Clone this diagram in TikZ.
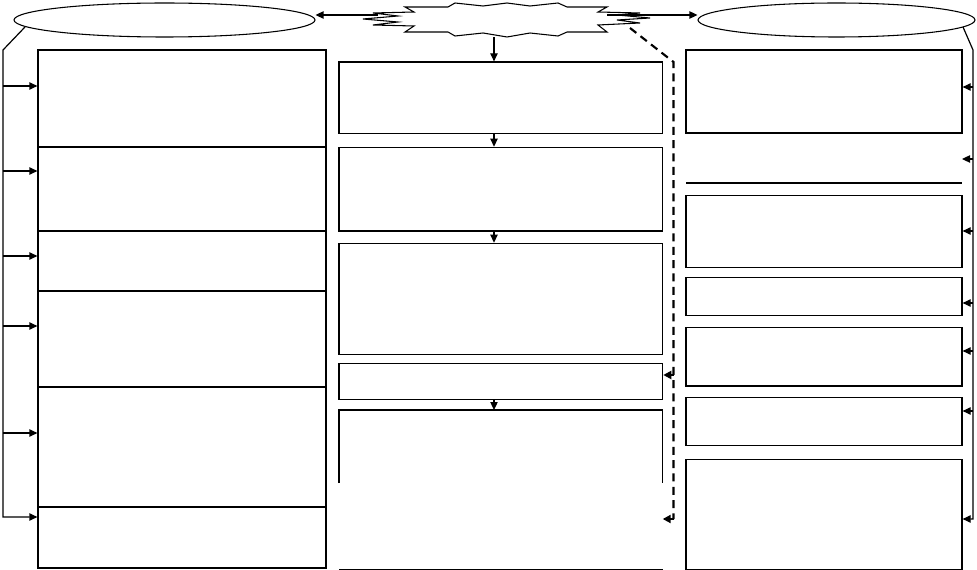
\documentclass[tikz,border=0pt]{standalone}
\usetikzlibrary{shapes.geometric,arrows.meta,fit}
\tikzset{
  ln/.style={line width=0.9pt},
  box/.style={draw, line width=0.9pt, inner sep=0pt},
  hid/.style={inner sep=0pt, outer sep=0pt},
  arr/.style={line width=0.9pt, -{Triangle[length=6pt,width=5.5pt]}},
  dsh/.style={line width=1.6pt, dash pattern=on 6pt off 4pt},
  oval/.style={ellipse, draw, line width=0.8pt, inner sep=0pt},
}
\begin{document}
\begin{tikzpicture}[x=0.75pt,y=-0.75pt]
\useasboundingbox (0,0) rectangle (977,570);

% ellipses
\node[oval, minimum width=225.75pt, minimum height=25.5pt] (E1) at (164.5,20) {};
\node[oval, minimum width=207.75pt, minimum height=25.5pt] (E2) at (836.5,20) {};

% burst
\draw[line width=0.8pt] (405,7) -- (448,7) -- (455,3) -- (483,6) -- (507,3) -- (530,6) -- (558,3) -- (567,7)
  -- (607,7) -- (598,12) -- (640,13) -- (617,15) -- (650,18) -- (617,20) -- (640,23) -- (598,25)
  -- (607,32) -- (567,32) -- (558,36) -- (530,33) -- (507,37) -- (483,33) -- (455,36) -- (448,32)
  -- (405,32) -- (414,26) -- (373,25) -- (398,22) -- (363,19) -- (398,16) -- (373,13) -- (414,12) -- cycle;
\node[hid, fit={(363,3) (650,37)}] (burst) {};

% left column
\node[box, fit={(38,50) (326,147)}] (L1) {};
\node[box, fit={(38,147) (326,231)}] (L2) {};
\node[box, fit={(38,231) (326,291)}] (L3) {};
\node[box, fit={(38,291) (326,387)}] (L4) {};
\node[box, fit={(38,387) (326,507)}] (L5) {};
\node[box, fit={(38,507) (326,568)}] (L6) {};

% middle column
\node[box, fit={(339,62) (662.7,133.3)}] (M1) {};
\node[box, fit={(339,147.3) (662.7,231)}] (M2) {};
\node[box, fit={(339,243.3) (662.7,354.3)}] (M3) {};
\node[box, fit={(339,363.3) (662.7,399.3)}] (M4) {};
\node[hid, fit={(339,410) (662.7,569.3)}] (M5) {};
\draw[ln] (M5.west |- 0,483) -- (M5.north west) -- (M5.north east) -- (M5.east |- 0,483);
\draw[ln] (M5.south west) -- (M5.south east);

% right column
\node[box, fit={(686,50) (962,133)}] (R1) {};
\node[hid, fit={(686,133) (962,183)}] (R2) {};
\draw[ln] (R2.south west) -- (R2.south east);
\node[box, fit={(686,195.3) (962,267.3)}] (R3) {};
\node[box, fit={(686,277.3) (962,315.7)}] (R4) {};
\node[box, fit={(686,327.3) (962,386)}] (R5) {};
\node[box, fit={(686,397.3) (962,445.7)}] (R6) {};
\node[box, fit={(686,459.3) (962,569.3)}] (R7) {};

% burst connectors
\coordinate (bL) at (378,15);
\coordinate (bR) at (607,15);
\draw[arr] (bL) -- (E1.east |- bL);
\draw[arr] (bR) -- (E2.west |- bR);
\draw[arr] (burst.south -| 494,0) -- (M1.north -| 494,0);
\draw[arr] (M1.south -| 494,0) -- (M2.north -| 494,0);
\draw[arr] (M2.south -| 494,0) -- (M3.north -| 494,0);
\draw[arr] (M4.south -| 494,0) -- (M5.north -| 494,0);

% dashed connector
\coordinate (dS) at (630,28);
\coordinate (dC) at (673.5,62);
\coordinate (dB) at (673.5,519);
\draw[dsh] (dS) -- (dC) -- (dB);
\draw[line width=1.6pt, -{Triangle[length=6pt,width=6pt]}] (dB) -- (M5.east |- dB);
\draw[line width=1.6pt, -{Triangle[length=6pt,width=6pt]}] (673.5,375) -- (M4.east |- 0,375);

% left bracket
\coordinate (lb0) at (25,27);
\coordinate (lb1) at (3,50);
\draw[arr] (lb0) -- (lb1) -- (3,517) -- (L6.west |- 0,517);
\draw[arr] (3,86) -- (L1.west |- 0,86);
\draw[arr] (3,171) -- (L2.west |- 0,171);
\draw[arr] (3,256) -- (L3.west |- 0,256);
\draw[arr] (3,326) -- (L4.west |- 0,326);
\draw[arr] (3,433) -- (L5.west |- 0,433);

% right bracket
\coordinate (rb0) at (963,27);
\coordinate (rb1) at (973,50);
\draw[arr] (rb0) -- (rb1) -- (973,519) -- (R7.east |- 0,519);
\draw[arr] (973,87) -- (R1.east |- 0,87);
\draw[arr] (973,159) -- (R2.east |- 0,159);
\draw[arr] (973,231) -- (R3.east |- 0,231);
\draw[arr] (973,303) -- (R4.east |- 0,303);
\draw[arr] (973,351) -- (R5.east |- 0,351);
\draw[arr] (973,411) -- (R6.east |- 0,411);
\end{tikzpicture}
\end{document}
